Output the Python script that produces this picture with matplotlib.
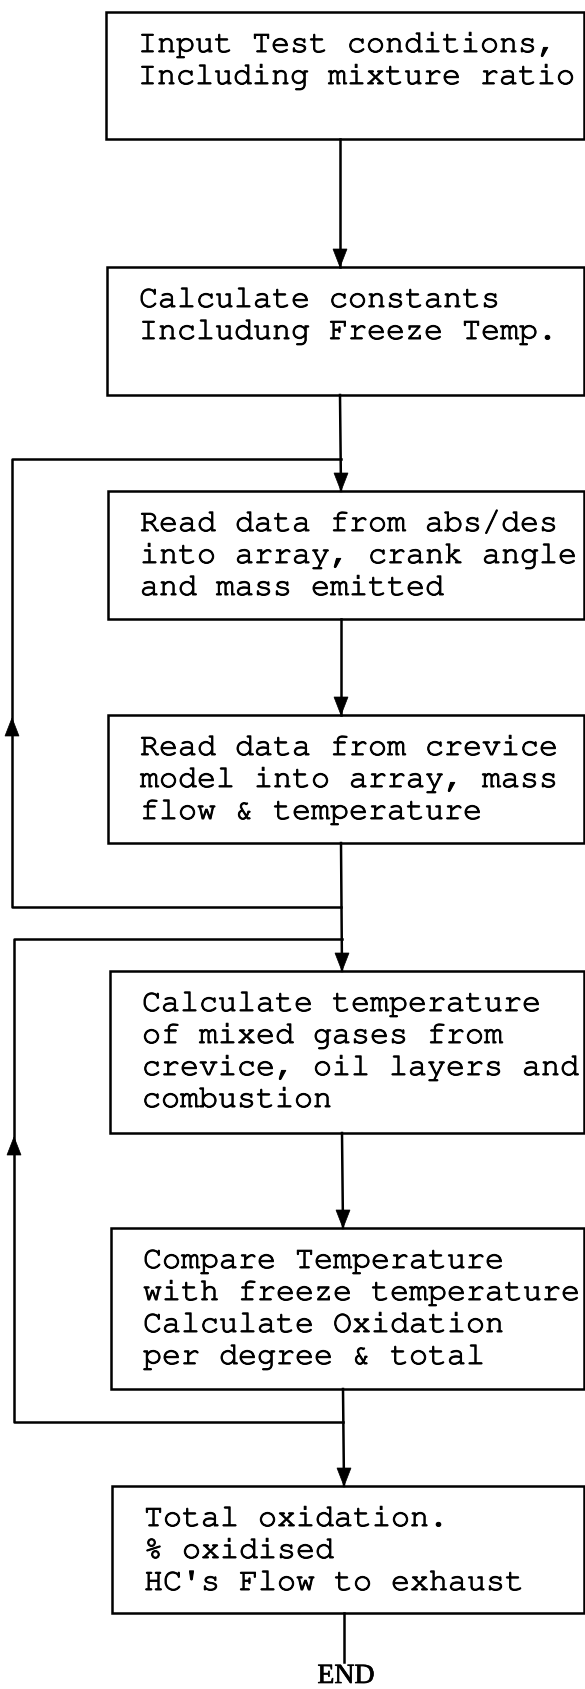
import matplotlib
matplotlib.use("Agg")
import matplotlib.pyplot as plt
import matplotlib.patheffects as pe
from matplotlib import font_manager
from matplotlib.patches import Rectangle, Polygon

# box texts, top to bottom
box_labels = [
    ["Input Test conditions,", "Including mixture ratio"],
    ["Calculate constants", "Includung Freeze Temp."],
    ["Read data from abs/des", "into array, crank angle", "and mass emitted"],
    ["Read data from crevice", "model into array, mass", "flow & temperature"],
    ["Calculate temperature", "of mixed gases from", "crevice, oil layers and", "combustion"],
    ["Compare Temperature", "with freeze temperature", "Calculate Oxidation", "per degree & total"],
    ["Total oxidation.", "% oxidised", "HC's Flow to exhaust"],
]
end_label = "END"

# layout in pixels (top, bottom, left, centre line x)
box_top = [12, 267, 491, 715, 971, 1228, 1486]
box_bottom = [139, 395, 619, 843, 1133, 1389, 1613]
box_left = [106, 107, 108, 108, 110, 111, 112]
box_cx = [340, 340, 341, 341, 342, 343, 344]
RIGHT = 584
W, H = 585, 1689

LW = 1.8

# pick a serif monospace (Courier-like) if one is installed
names = {f.name for f in font_manager.fontManager.ttflist}
MONO = "Liberation Mono"
for cand in ["Courier New", "Courier", "Nimbus Mono PS", "Nimbus Mono L", "FreeMono", "Courier 10 Pitch"]:
    if cand in names:
        MONO = cand
        break


def arrow_head(ax, x, y, direction):
    # filled triangle, tip at (x, y); direction +1 = pointing down, -1 = up
    hw, hl = 7, 18
    ax.add_patch(Polygon([(x, y), (x - hw, y - direction * hl), (x + hw, y - direction * hl)],
                         closed=True, facecolor="black", edgecolor="black", lw=0.5))


fig = plt.figure(figsize=(W / 100, H / 100), dpi=100)
ax = fig.add_axes([0, 0, 1, 1])
ax.set_xlim(0, W)
ax.set_ylim(H, 0)
ax.axis("off")

heavy = [pe.withStroke(linewidth=0.7, foreground="black")]

# boxes and text
for lines, top, bot, left in zip(box_labels, box_top, box_bottom, box_left):
    ax.add_patch(Rectangle((left, top), RIGHT - left, bot - top, fill=False,
                           edgecolor="black", lw=LW))
    for i, line in enumerate(lines):
        ax.text(left + 32, top + 40 + 32 * i, line, family=MONO, fontsize=22.8,
                ha="left", va="baseline", color="black", path_effects=heavy)

# straight connectors between boxes
for i in range(len(box_top) - 1):
    x0, x1 = box_cx[i], box_cx[i + 1]
    ax.plot([x0, x1], [box_bottom[i], box_top[i + 1]], color="black", lw=LW)
    arrow_head(ax, x1, box_top[i + 1], 1)

# loop 1: boxes 3-4
loop1_top, loop1_bot, loop1_x = 459, 907, 12
ax.plot([box_cx[2], loop1_x, loop1_x, box_cx[3]],
        [loop1_top, loop1_top, loop1_bot, loop1_bot], color="black", lw=LW)
arrow_head(ax, loop1_x, 718, -1)

# loop 2: boxes 5-6
loop2_top, loop2_bot, loop2_x = 939, 1422, 14
ax.plot([box_cx[4], loop2_x, loop2_x, box_cx[5]],
        [loop2_top, loop2_top, loop2_bot, loop2_bot], color="black", lw=LW)
arrow_head(ax, loop2_x, 1137, -1)

# end
ax.plot([box_cx[6], box_cx[6]], [box_bottom[6], 1662], color="black", lw=LW)
ax.text(346, 1683, end_label, family="Liberation Serif", fontsize=20,
        ha="center", va="baseline", color="black",
        path_effects=[pe.withStroke(linewidth=0.5, foreground="black")])

fig.savefig("out.png", dpi=100, facecolor="white")
